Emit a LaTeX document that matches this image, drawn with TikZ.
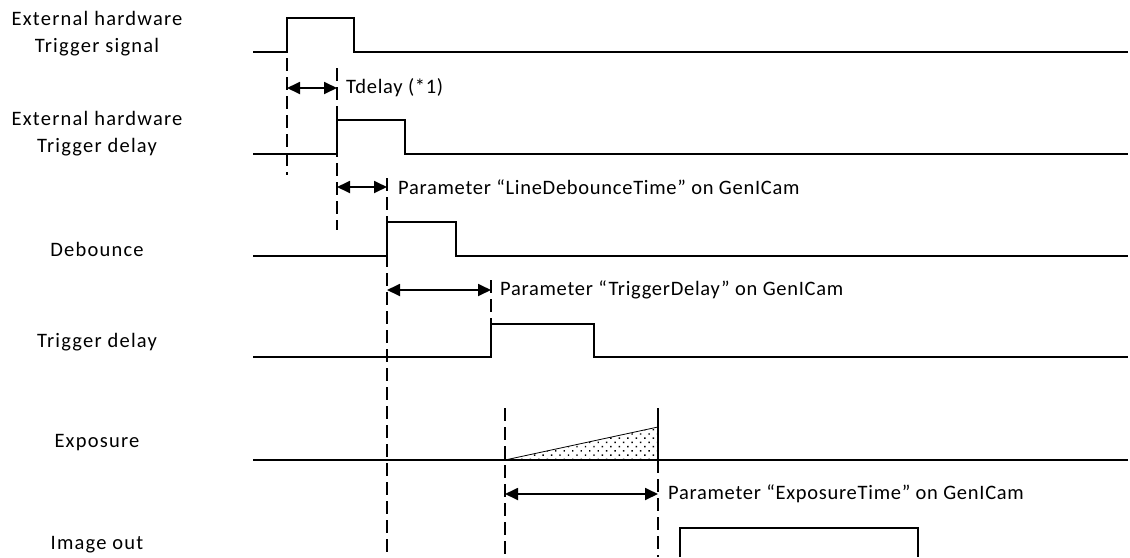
\documentclass[tikz,border=0pt]{standalone}
\usepackage{fontspec}
\setmainfont{Carlito}
\usetikzlibrary{arrows.meta,patterns.meta}
\begin{document}
\begin{tikzpicture}[x=1pt,y=-1pt,
  sig/.style={line width=2pt},
  guide/.style={line width=1.8pt, dash pattern=on 13pt off 6pt},
  dim/.style={line width=1.8pt,{Triangle[length=13pt,width=12pt]}-{Triangle[length=13pt,width=12pt]}},
  lbl/.style={font=\fontsize{20.5}{27}\selectfont\addfontfeature{LetterSpace=6}, align=center},
  note/.style={font=\fontsize{20.5}{22}\selectfont\addfontfeature{LetterSpace=3.5}, anchor=west, inner sep=0pt}]
\useasboundingbox (0,0) rectangle (1130,557);

% labels
\node[lbl] (l1) at (97,34) {External hardware\\Trigger signal};
\node[lbl] (l2) at (97,134) {External hardware\\Trigger delay};
\node[lbl] (l3) at (97,249) {Debounce};
\node[lbl] (l4) at (97,342) {Trigger delay};
\node[lbl] (l5) at (97,443) {Exposure};
\node[lbl] (l6) at (97,545) {Image out};

% signals
\draw[sig] (253,52) -- (287,52) -- (287,18) -- (354,18) -- (354,52) -- (1128,52);
\draw[sig] (253,154) -- (337,154) -- (337,120) -- (405,120) -- (405,154) -- (1128,154);
\draw[sig] (253,256) -- (387,256) -- (387,222) -- (456,222) -- (456,256) -- (1128,256);
\draw[sig] (253,357) -- (491,357) -- (491,324) -- (594,324) -- (594,357) -- (1128,357);
\draw[line width=0.8pt, pattern={Dots[distance=6pt,radius=1pt,angle=45]}] (505,460) -- (658,427) -- (658,460) -- cycle;
\draw[sig] (253,460) -- (1128,460);
\draw[sig] (680,557) -- (680,528) -- (918,528) -- (918,557);

% guide lines
\coordinate (g1t) at (287,58);  \coordinate (g1b) at (287,175);
\coordinate (g2t) at (337,68);  \coordinate (g2b) at (337,230);
\coordinate (g3t) at (387,178); \coordinate (g3b) at (387,557);
\coordinate (g4t) at (491,280); \coordinate (g4b) at (491,324);
\coordinate (g5t) at (505,408); \coordinate (g5b) at (505,557);
\coordinate (g6t) at (658,408); \coordinate (g6m) at (658,460); \coordinate (g6b) at (658,557);
\draw[guide] (g1t) -- (g1b);
\draw[guide] (g2t) -- (g2b);
\draw[guide] (g3t) -- (g3b);
\draw[guide] (g4t) -- (g4b);
\draw[guide] (g5t) -- (g5b);
\draw[line width=1.8pt] (g6t) -- (g6m);
\draw[guide] (g6m) -- (g6b);

% dimension arrows
\coordinate (a1s) at (287,88); \coordinate (a1e) at (337,88);
\coordinate (a2s) at (337,187); \coordinate (a2e) at (387,187);
\coordinate (a3s) at (387,290); \coordinate (a3e) at (491,290);
\coordinate (a4s) at (505,494); \coordinate (a4e) at (658,494);
\draw[dim] (a1s) -- (a1e);
\draw[dim] (a2s) -- (a2e);
\draw[dim] (a3s) -- (a3e);
\draw[dim] (a4s) -- (a4e);
\node[note] (t1) at (346,88) {Tdelay (*1)};
\node[note] (t2) at (398,187) {Parameter “LineDebounceTime” on GenICam};
\node[note] (t3) at (500,290) {Parameter “TriggerDelay” on GenICam};
\node[note] (t4) at (668,494) {Parameter “ExposureTime” on GenICam};
\end{tikzpicture}
\end{document}
